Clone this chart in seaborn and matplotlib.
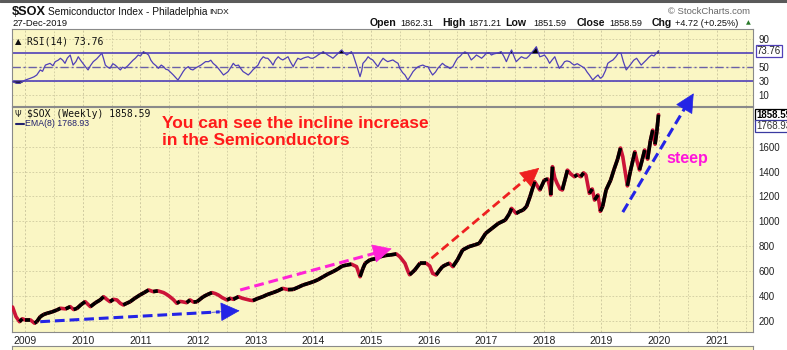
import numpy as np
import pandas as pd
import seaborn as sns
import matplotlib
matplotlib.use("Agg")
import matplotlib.pyplot as plt
from matplotlib.lines import Line2D

# ---------------- data ----------------
price_t = [2008.78, 2008.84, 2008.90, 2008.95, 2009.00, 2009.09, 2009.16, 2009.20, 2009.26, 2009.32,
           2009.38, 2009.46, 2009.55, 2009.61, 2009.70, 2009.78, 2009.84, 2009.90, 2009.97, 2010.04,
           2010.13, 2010.22, 2010.30, 2010.36, 2010.42, 2010.47, 2010.53, 2010.59, 2010.65, 2010.70,
           2010.76, 2010.82, 2010.90, 2010.99, 2011.06, 2011.14, 2011.22, 2011.30, 2011.40, 2011.46,
           2011.51, 2011.57, 2011.63, 2011.68, 2011.72, 2011.80, 2011.86, 2011.92, 2011.98, 2012.04,
           2012.09, 2012.16, 2012.24, 2012.30, 2012.35, 2012.42, 2012.50, 2012.56, 2012.61, 2012.70,
           2012.77, 2012.84, 2012.90, 2012.95, 2013.03, 2013.12, 2013.20, 2013.30, 2013.38, 2013.47,
           2013.56, 2013.65, 2013.74, 2013.82, 2013.91, 2014.00, 2014.08, 2014.17, 2014.25, 2014.34,
           2014.42, 2014.50, 2014.58, 2014.66, 2014.75, 2014.81, 2014.86, 2014.90, 2014.98, 2015.08,
           2015.16, 2015.25, 2015.33, 2015.44, 2015.50, 2015.59, 2015.64, 2015.67, 2015.72, 2015.76,
           2015.85, 2015.96, 2016.02, 2016.07, 2016.13, 2016.18, 2016.24, 2016.30, 2016.36, 2016.42,
           2016.50, 2016.59, 2016.70, 2016.80, 2016.88, 2016.99, 2017.10, 2017.21, 2017.33, 2017.40,
           2017.44, 2017.52, 2017.58, 2017.64, 2017.70, 2017.76, 2017.84, 2017.93, 2018.01, 2018.07,
           2018.10, 2018.12, 2018.15, 2018.19, 2018.23, 2018.28, 2018.32, 2018.37, 2018.41, 2018.47,
           2018.53, 2018.58, 2018.64, 2018.69, 2018.73, 2018.79, 2018.84, 2018.88, 2018.94, 2018.98,
           2019.02, 2019.08, 2019.16, 2019.22, 2019.28, 2019.33, 2019.37, 2019.41, 2019.45, 2019.50,
           2019.55, 2019.58, 2019.62, 2019.66, 2019.71, 2019.75, 2019.80, 2019.85, 2019.89, 2019.93,
           2019.96, 2019.99]
price_v = [310, 232, 192, 215, 206, 206, 180, 192, 232, 250,
           260, 270, 286, 300, 295, 313, 290, 300, 330, 353,
           313, 345, 367, 393, 370, 353, 372, 367, 340, 327,
           340, 353, 380, 407, 425, 447, 434, 440, 426, 410,
           393, 370, 340, 355, 353, 345, 367, 350, 353, 375,
           393, 410, 426, 418, 407, 385, 367, 380, 372, 393,
           380, 372, 365, 362, 378, 393, 410, 426, 440, 460,
           450, 452, 470, 487, 500, 514, 530, 554, 575, 595,
           615, 640, 648, 655, 635, 554, 620, 662, 689, 700,
           715, 725, 729, 737, 715, 662, 600, 570, 590, 608,
           662, 662, 640, 581, 568, 600, 635, 650, 662, 635,
           689, 769, 796, 810, 823, 903, 943, 983, 1010, 1060,
           1104, 1064, 1080, 1091, 1120, 1198, 1319, 1252, 1332, 1340,
           1280, 1212, 1440, 1350, 1305, 1260, 1252, 1340, 1412, 1380,
           1359, 1375, 1359, 1390, 1373, 1225, 1260, 1171, 1212, 1080,
           1120, 1252, 1332, 1420, 1500, 1590, 1520, 1400, 1285, 1400,
           1500, 1560, 1480, 1413, 1500, 1574, 1500, 1650, 1734, 1620,
           1720, 1858.59]

rsi_t = [2008.78, 2008.84, 2008.90, 2008.95, 2009.00, 2009.09, 2009.15, 2009.20, 2009.26, 2009.30,
         2009.35, 2009.43, 2009.48, 2009.52, 2009.57, 2009.61, 2009.65, 2009.69, 2009.73, 2009.78,
         2009.83, 2009.88, 2009.92, 2009.96, 2010.00, 2010.05, 2010.09, 2010.13, 2010.18, 2010.24,
         2010.30, 2010.33, 2010.36, 2010.39, 2010.43, 2010.47, 2010.52, 2010.56, 2010.60, 2010.65,
         2010.69, 2010.73, 2010.78, 2010.82, 2010.87, 2010.91, 2010.96, 2011.00, 2011.05, 2011.10,
         2011.14, 2011.18, 2011.22, 2011.27, 2011.31, 2011.36, 2011.40, 2011.44, 2011.48, 2011.53,
         2011.57, 2011.61, 2011.65, 2011.70, 2011.74, 2011.78, 2011.83, 2011.87, 2011.91, 2011.96,
         2012.00, 2012.05, 2012.09, 2012.13, 2012.18, 2012.22, 2012.26, 2012.31, 2012.35, 2012.40,
         2012.44, 2012.48, 2012.52, 2012.57, 2012.61, 2012.65, 2012.70, 2012.74, 2012.78, 2012.83,
         2012.87, 2012.91, 2012.95, 2013.00, 2013.04, 2013.08, 2013.13, 2013.17, 2013.21, 2013.26,
         2013.30, 2013.34, 2013.39, 2013.43, 2013.47, 2013.52, 2013.56, 2013.60, 2013.65, 2013.69,
         2013.73, 2013.78, 2013.82, 2013.86, 2013.91, 2013.95, 2013.99, 2014.04, 2014.08, 2014.13,
         2014.17, 2014.21, 2014.25, 2014.30, 2014.34, 2014.38, 2014.43, 2014.49, 2014.53, 2014.58,
         2014.62, 2014.66, 2014.69, 2014.72, 2014.76, 2014.81, 2014.84, 2014.86, 2014.91, 2014.95,
         2014.99, 2015.03, 2015.08, 2015.12, 2015.16, 2015.21, 2015.25, 2015.29, 2015.33, 2015.38,
         2015.42, 2015.47, 2015.50, 2015.55, 2015.59, 2015.64, 2015.69, 2015.73, 2015.78, 2015.82,
         2015.86, 2015.90, 2015.95, 2015.99, 2016.03, 2016.07, 2016.12, 2016.16, 2016.20, 2016.24,
         2016.29, 2016.33, 2016.37, 2016.42, 2016.46, 2016.50, 2016.55, 2016.59, 2016.63, 2016.68,
         2016.71, 2016.74, 2016.79, 2016.83, 2016.88, 2016.92, 2016.96, 2017.00, 2017.05, 2017.09,
         2017.13, 2017.18, 2017.22, 2017.26, 2017.31, 2017.35, 2017.40, 2017.44, 2017.48, 2017.52,
         2017.57, 2017.61, 2017.66, 2017.70, 2017.74, 2017.78, 2017.83, 2017.87, 2017.90, 2017.93,
         2017.97, 2018.01, 2018.06, 2018.10, 2018.14, 2018.19, 2018.23, 2018.27, 2018.32, 2018.36,
         2018.40, 2018.45, 2018.49, 2018.53, 2018.58, 2018.62, 2018.66, 2018.71, 2018.75, 2018.79,
         2018.85, 2018.89, 2018.94, 2018.98, 2019.02, 2019.07, 2019.11, 2019.15, 2019.20, 2019.25,
         2019.29, 2019.34, 2019.38, 2019.43, 2019.47, 2019.52, 2019.56, 2019.61, 2019.65, 2019.69,
         2019.74, 2019.78, 2019.82, 2019.87, 2019.91, 2019.95, 2019.99]
rsi_v = [29, 27, 26.7, 29, 31.4, 34, 36, 38.7, 46, 44,
         53, 55.5, 52, 57.9, 60, 62.8, 60, 55.5, 63, 67.5,
         53, 58, 65, 60, 55.5, 50, 46, 52, 57.9, 62,
         67.5, 70, 62, 53, 50, 48.3, 55, 53, 50, 46,
         50, 48.3, 52, 55.5, 60, 62.8, 67.5, 66, 72.3, 70,
         67.5, 60, 55.5, 52, 48.3, 53, 50.7, 47, 46, 42,
         38.7, 35, 31.4, 38, 43.6, 48, 50.7, 47, 46, 49,
         50.7, 53, 55.5, 58, 57.9, 60, 55.5, 52, 48.3, 43,
         38.7, 41, 43.6, 50, 55.5, 52, 53, 48, 43.6, 41,
         38.7, 42, 46, 50, 53, 60, 65, 63, 62.8, 58,
         53, 60, 65, 62, 60.4, 63, 65, 58, 50.7, 57,
         62.8, 61, 62.8, 64, 65, 63, 62.8, 65, 67.5, 70,
         72.3, 70, 67.5, 65, 62.8, 66, 70, 74.8, 71, 67.5,
         70, 72.3, 68, 60.4, 50, 36.3, 45, 55.5, 60, 65,
         62, 60.4, 55, 50.7, 57, 62.8, 60, 57.9, 59, 60.4,
         58, 55.5, 48.3, 42, 38.7, 31.4, 38, 43.6, 48, 50.7,
         52, 53, 51, 50.7, 44, 38.7, 43, 48.3, 52, 55.5,
         52, 50.7, 48, 50.7, 57, 62.8, 66, 70, 72, 70,
         65, 60.4, 64, 67.5, 65, 62.8, 66, 70, 71, 67.5,
         69, 70, 71, 72.3, 65, 57.9, 68, 74.8, 66, 57.9,
         62, 65, 63, 62.8, 66, 70, 75, 79.5, 72, 65,
         66, 67.5, 62, 55.5, 60, 65, 56, 48.3, 53, 57.9,
         59, 57.9, 55, 53, 55, 53, 51, 48.3, 43, 38.7,
         31.4, 35, 38.7, 34, 36.3, 45, 55.5, 58, 60.4, 65,
         70, 70, 58, 46, 50, 55.5, 60, 62.8, 58, 53,
         57, 60.4, 64, 67.5, 66, 70, 73.76]

year_ticks = list(range(2009, 2022))
price_ticks = [200, 400, 600, 800, 1000, 1200, 1400, 1600]
rsi_ticks = [10, 30, 50, 90]

# ---------------- style ----------------
sns.set_theme(style="white")
plt.rcParams["font.family"] = ["Liberation Sans", "DejaVu Sans"]

W, H = 787, 350
YEL = "#FAF6C4"
GRID = "#cfcaa0"
RSI_C = "#5040b8"
XMIN, XMAX = 2008.77, 2021.63

fig = plt.figure(figsize=(W / 100, H / 100), dpi=100)
fig.patch.set_facecolor("white")


def fx(px):
    return px / W


def fy(py):
    return 1 - py / H


ax_r = fig.add_axes([fx(12), fy(106), fx(741), (106 - 29) / H])
ax_p = fig.add_axes([fx(12), fy(332), fx(741), (332 - 107) / H])

# ---------------- RSI panel ----------------
rsi_df = pd.DataFrame({"t": rsi_t, "rsi": rsi_v})
ra = np.array(rsi_v)
ax_r.fill_between(rsi_t, ra, 70, where=ra > 70, interpolate=True, color="black", lw=0, zorder=2)
ax_r.fill_between(rsi_t, ra, 30, where=ra < 30, interpolate=True, color="black", lw=0, zorder=2)
ax_r.axhline(70, color=RSI_C, lw=1.2, zorder=1.5)
ax_r.axhline(30, color=RSI_C, lw=1.2, zorder=1.5)
ax_r.axhline(50, color="#6a60a8", lw=1.0, ls=(0, (6, 2, 1.5, 2)), zorder=1.5)
sns.lineplot(data=rsi_df, x="t", y="rsi", ax=ax_r, color=RSI_C, lw=0.9,
             estimator=None, sort=False, zorder=3)

# ---------------- price panel ----------------
price_df = pd.DataFrame({"t": price_t, "close": price_v})
sns.lineplot(data=price_df, x="t", y="close", ax=ax_p, color="#cc1438", lw=2.6,
             estimator=None, sort=False, zorder=3)
pt = np.array(price_t)
pv = np.array(price_v)
for i in range(len(pt) - 1):
    if pv[i + 1] >= pv[i]:
        ax_p.plot(pt[i:i + 2], pv[i:i + 2], color="black", lw=2.6, zorder=4,
                  solid_capstyle="butt")

# ---------------- common axis styling (after plotting) ----------------
for ax in (ax_r, ax_p):
    ax.set_facecolor(YEL)
    for s in ax.spines.values():
        s.set_color("#8a8a8a")
        s.set_linewidth(0.8)
    ax.set_xticks(year_ticks)
    ax.set_xticks([y + 0.5 for y in range(2008, 2022)], minor=True)
    ax.grid(True, which="major", axis="x", color=GRID, ls=(0, (2, 2)), lw=0.7)
    ax.grid(True, which="minor", axis="x", color=GRID, ls=(0, (2, 2)), lw=0.6)
    ax.yaxis.tick_right()
    ax.tick_params(axis="both", which="both", length=0)
    ax.set_xlabel("")
    ax.set_ylabel("")
    ax.set_xlim(XMIN, XMAX)

ax_r.set_ylim(-6, 105)
ax_r.set_yticks(rsi_ticks)
ax_r.grid(True, axis="y", color=GRID, ls=(0, (2, 2)), lw=0.6)
ax_r.set_xticklabels([])
ax_r.tick_params(axis="y", labelsize=7, pad=4, labelcolor="#222")

ax_p.set_ylim(109, 1920)
ax_p.set_yticks(price_ticks)
ax_p.grid(True, axis="y", color=GRID, ls=(0, (2, 2)), lw=0.6)
ax_p.set_xticklabels([str(y) for y in year_ticks])
ax_p.tick_params(axis="x", labelsize=7.5, pad=3, labelcolor="#222")
ax_p.tick_params(axis="y", labelsize=7, pad=4, labelcolor="#222")

# RSI texts
ax_r.text(1.005, 73.76, "73.76", transform=ax_r.get_yaxis_transform(), ha="left", va="center",
          fontsize=7, color="#222",
          bbox=dict(boxstyle="square,pad=0.12", fc="white", ec=RSI_C, lw=0.9), clip_on=False)
ax_r.text(0.004, 0.84, "\u25b2", transform=ax_r.transAxes, fontsize=6, color="#111",
          ha="left", va="center", family=["DejaVu Sans"])
ax_r.text(0.02, 0.84, "RSI(14) 73.76", transform=ax_r.transAxes, fontsize=7,
          color="#111", ha="left", va="center", family=["DejaVu Sans Mono"])

# price texts
ax_p.text(1.004, 1858.59, "1858.59", transform=ax_p.get_yaxis_transform(), ha="left", va="center",
          fontsize=7, fontweight="bold", color="black",
          bbox=dict(boxstyle="square,pad=0.1", fc="white", ec="black", lw=0.9), clip_on=False)
ax_p.text(1.004, 1768.93, "1768.93", transform=ax_p.get_yaxis_transform(), ha="left", va="center",
          fontsize=7, color="#333",
          bbox=dict(boxstyle="square,pad=0.1", fc="white", ec="#3a3aa0", lw=0.9), clip_on=False)

ax_p.text(0.004, 0.967, "\u03a8", transform=ax_p.transAxes, fontsize=6, color="#222",
          ha="left", va="center", family=["DejaVu Sans"])
ax_p.text(0.02, 0.967, r"\$SOX (Weekly) 1858.59", transform=ax_p.transAxes, fontsize=7,
          color="#111", ha="left", va="center", family=["DejaVu Sans Mono"])
ax_p.plot([0.006, 0.016], [0.925, 0.925], transform=ax_p.transAxes, color="#22226e", lw=1.5)
ax_p.text(0.018, 0.925, "EMA(8) 1768.93", transform=ax_p.transAxes, fontsize=6.3,
          color="#22226e", ha="left", va="center")


# annotations (dashed arrows)
def dashed_arrow(ax, p0, p1, color, lw=2.2):
    (x0, y0), (x1, y1) = p0, p1
    f = 0.9
    xm, ym = x0 + f * (x1 - x0), y0 + f * (y1 - y0)
    ax.plot([x0, xm], [y0, ym], color=color, lw=lw, ls=(0, (3.2, 1.6)), zorder=6,
            clip_on=False, dash_capstyle="butt")
    g = 0.86
    xs, ys = x0 + g * (x1 - x0), y0 + g * (y1 - y0)
    ax.annotate("", xy=(x1, y1), xytext=(xs, ys), annotation_clip=False, zorder=7,
                arrowprops=dict(arrowstyle="-|>,head_length=0.9,head_width=0.45",
                                color=color, lw=0.5, mutation_scale=14,
                                shrinkA=0, shrinkB=0))


dashed_arrow(ax_p, (2009.26, 192), (2012.72, 280), "#2424e6")
dashed_arrow(ax_p, (2012.73, 447), (2015.36, 780), "#ff22d6")
dashed_arrow(ax_p, (2016.05, 702), (2017.92, 1430), "#ee2020", lw=2.0)
dashed_arrow(ax_p, (2019.37, 1074), (2020.60, 2030), "#2424e6")

ax_p.text(2011.37, 1718, "You can see the incline increase\nin the Semiconductors",
          fontsize=12.5, fontweight="bold", color="#ff1a1a", ha="left", va="center",
          linespacing=1.2, zorder=8)
ax_p.text(2020.13, 1509, "steep", fontsize=11.5, fontweight="bold", color="#ff14dc",
          ha="left", va="center", zorder=8)

# bottom strip of the next panel
ax_b = fig.add_axes([fx(12), fy(356), fx(741), 10 / H])
ax_b.set_facecolor(YEL)
ax_b.set_xticks([])
ax_b.set_yticks([])
for s in ax_b.spines.values():
    s.set_color("#8a8a8a")
    s.set_linewidth(0.8)

# ---------------- header texts ----------------
fig.add_artist(Line2D([0, 1], [fy(0.8), fy(0.8)], color="#5a5a5a", lw=2.2))
fig.text(fx(12), fy(12), r"\$SOX", fontsize=9.2, fontweight="bold", color="#111",
         ha="left", va="center")
fig.text(fx(48), fy(12), "Semiconductor Index - Philadelphia", fontsize=7.3, color="#111",
         ha="left", va="center")
fig.text(fx(209), fy(12.5), "INDX", fontsize=6.0, color="#111", ha="left", va="center")
fig.text(fx(668), fy(11), "\u00a9 StockCharts.com", fontsize=6.8, color="#666",
         ha="left", va="center")
fig.text(fx(12), fy(23.5), "27-Dec-2019", fontsize=6.8, color="#111", ha="left", va="center")

hdr = [(370, "Open", True), (400, "1862.31", False), (442, "High", True),
       (468, "1871.21", False), (505, "Low", True), (533, "1851.59", False),
       (577, "Close", True), (609, "1858.59", False), (652, "Chg", True),
       (675, "+4.72 (+0.25%)", False)]
for x, s, b in hdr:
    fig.text(fx(x), fy(23.5), s, fontsize=7.6 if b else 6.6,
             fontweight="bold" if b else "normal", color="#111", ha="left", va="center")
fig.text(fx(746), fy(23), "\u25b2", fontsize=4.5, color="#2a7a2a", ha="left", va="center",
         family=["DejaVu Sans"])

fig.savefig("out.png", dpi=100)
